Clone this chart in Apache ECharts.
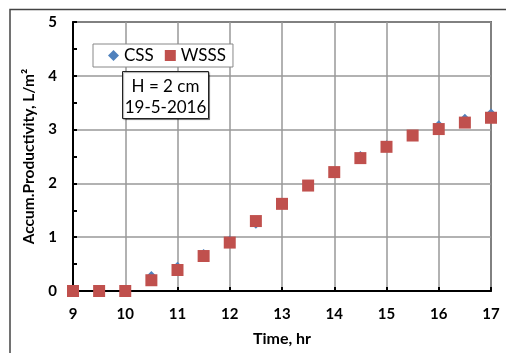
<!DOCTYPE html>
<html>
<head>
<meta charset="utf-8">
<script src="https://cdn.jsdelivr.net/npm/echarts@6/dist/echarts.min.js"></script>
<style>
  html, body { margin: 0; padding: 0; background: #fff; }
  #chart { width: 506px; height: 353px; }
</style>
</head>
<body>
<div id="chart"></div>
<script>
// Time of day, hours
const hours = [9, 9.5, 10, 10.5, 11, 11.5, 12, 12.5, 13, 13.5, 14, 14.5, 15, 15.5, 16, 16.5, 17];
// Accumulated productivity, L/m²
const cssValues  = [0, 0, 0, 0.28, 0.45, 0.69, 0.94, 1.25, 1.62, 1.96, 2.21, 2.51, 2.71, 2.89, 3.08, 3.20, 3.30];
const wsssValues = [0, 0, 0, 0.20, 0.39, 0.65, 0.90, 1.30, 1.62, 1.96, 2.21, 2.47, 2.68, 2.89, 3.01, 3.13, 3.22];
const xTicks = { min: 9, max: 17, step: 1 };
const yTicks = { min: 0, max: 5, step: 1 };

const font = 'Lato, "Open Sans", sans-serif';
const pair = (xs, ys) => xs.map((x, i) => [x, ys[i]]);

const chart = echarts.init(document.getElementById('chart'), null, { renderer: 'canvas' });
chart.setOption({
  animation: false,
  backgroundColor: '#fff',
  grid: {
    left: 73, right: 15, top: 22, bottom: 62,
    outerBoundsMode: 'none',
    containLabel: false,
    show: true, borderColor: '#000', borderWidth: 1.5
  },
  legend: {
    left: 93, top: 44,
    padding: [3, 7, 3, 15],
    itemGap: 11,
    itemWidth: 11, itemHeight: 11,
    borderColor: '#888', borderWidth: 1,
    backgroundColor: '#fff',
    textStyle: { fontFamily: font, fontSize: 17, color: '#000' },
    data: [
      { name: 'CSS', icon: 'diamond' },
      { name: 'WSSS', icon: 'rect' }
    ]
  },
  xAxis: {
    type: 'value',
    min: xTicks.min, max: xTicks.max, interval: xTicks.step,
    name: 'Time, hr',
    nameLocation: 'middle',
    nameGap: 40,
    nameTextStyle: { fontFamily: font, fontSize: 16, fontWeight: 'bold', color: '#000' },
    axisLine: { show: true, onZero: false, lineStyle: { color: '#000', width: 2 } },
    axisTick: { show: true, inside: true, length: 4, lineStyle: { color: '#000', width: 2 } },
    axisLabel: { fontFamily: font, fontSize: 15, fontWeight: 'bold', color: '#000', margin: 16 },
    splitLine: { show: true, lineStyle: { color: '#999', width: 1.5 } }
  },
  yAxis: {
    type: 'value',
    min: yTicks.min, max: yTicks.max, interval: yTicks.step,
    name: 'Accum.Productivity, L/m²',
    nameLocation: 'middle',
    nameGap: 28,
    nameTextStyle: { fontFamily: font, fontSize: 15.5, fontWeight: 'bold', color: '#000' },
    axisLine: { show: true, onZero: false, lineStyle: { color: '#000', width: 2 } },
    axisTick: { show: true, inside: true, length: 4, lineStyle: { color: '#000', width: 2 } },
    minorTick: { show: true, splitNumber: 2, length: 4, lineStyle: { color: '#000', width: 2 } },
    axisLabel: { fontFamily: font, fontSize: 15, fontWeight: 'bold', color: '#000', margin: 16 },
    splitLine: { show: true, lineStyle: { color: '#999', width: 1.5 } }
  },
  series: [
    {
      name: 'CSS', type: 'scatter', symbol: 'diamond', symbolSize: 10,
      itemStyle: { color: '#4F81BD', opacity: 1 },
      data: pair(hours, cssValues), clip: false, z: 3
    },
    {
      name: 'WSSS', type: 'scatter', symbol: 'rect', symbolSize: 12,
      itemStyle: { color: '#C0504D', opacity: 1 },
      data: pair(hours, wsssValues), clip: false, z: 4
    }
  ],
  graphic: [
    // chart frame edges
    { type: 'polyline', shape: { points: [[10, 353], [10, 9.5], [506, 9.5]] },
      style: { stroke: '#444', lineWidth: 1.5, fill: null }, z: 1 },
    // annotation box with a soft shadow edge
    { type: 'rect', shape: { x: 122.5, y: 71.5, width: 86, height: 47 },
      style: { fill: '#fff', stroke: '#222', lineWidth: 1,
               shadowColor: 'rgba(0,0,0,0.35)', shadowOffsetX: 1, shadowOffsetY: 1, shadowBlur: 1 }, z: 10 },
    { type: 'text', x: 165.5, y: 87,
      style: { text: 'H = 2 cm', textAlign: 'center', textVerticalAlign: 'middle',
               fontFamily: font, fontSize: 17, fill: '#000' }, z: 11 },
    { type: 'text', x: 165.5, y: 108,
      style: { text: '19-5-2016', textAlign: 'center', textVerticalAlign: 'middle',
               fontFamily: font, fontSize: 17, fill: '#000' }, z: 11 }
  ]
});
</script>
</body>
</html>
